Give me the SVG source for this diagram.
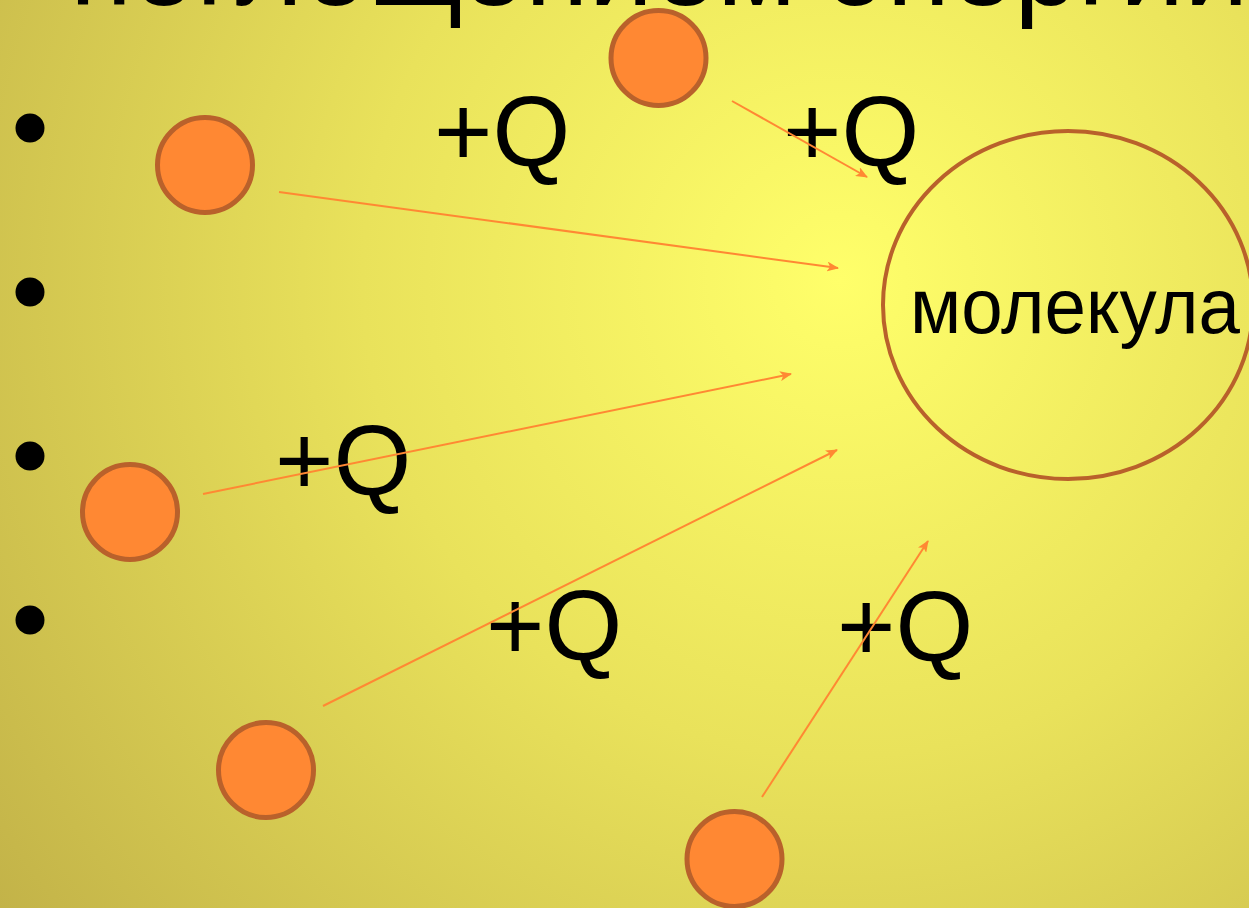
<svg xmlns="http://www.w3.org/2000/svg" width="1249" height="908" viewBox="0 0 1249 908">
<defs>
<radialGradient id="bg" gradientUnits="userSpaceOnUse" cx="840" cy="280" r="1060">
<stop offset="0" stop-color="#FFFF6A"/>
<stop offset="0.45" stop-color="#E9E25B"/>
<stop offset="1" stop-color="#C2B248"/>
</radialGradient>
<marker id="ah" viewBox="0 0 12 10" refX="11" refY="5" markerWidth="12" markerHeight="10" markerUnits="userSpaceOnUse" orient="auto">
<path d="M0,0 L12,5 L0,10 L3,5 Z" fill="#FF8833"/>
</marker>
<style>
.p{fill:#FF8833;stroke:#B9612B;stroke-width:5}
.q{font-family:"Liberation Sans",Arial,sans-serif;font-size:100px;fill:#000}
.b{fill:#000}
.c{stroke:#FF8833;stroke-width:2;fill:none;marker-end:url(#ah)}
</style>
</defs>
<rect width="1249" height="908" fill="url(#bg)"/>
<text x="70" y="5" font-family="Liberation Sans, Arial, sans-serif" font-size="115" fill="#000">поглощением энергии</text>
<g id="bullets">
<circle class="b" cx="30" cy="128" r="14.5"/>
<circle class="b" cx="30" cy="292" r="14.5"/>
<circle class="b" cx="30" cy="456" r="14.5"/>
<circle class="b" cx="30" cy="620" r="14.5"/>
</g>
<g id="molecule">
<ellipse cx="1068" cy="305" rx="185" ry="174" fill="none" stroke="#B9612B" stroke-width="4"/>
<text x="910" y="333" font-family="Liberation Sans, Arial, sans-serif" font-size="78" textLength="330" lengthAdjust="spacingAndGlyphs" fill="#000">молекула</text>
</g>
<g id="particle1"><circle class="p" cx="205" cy="165" r="47.5"/></g>
<g id="particle2"><circle class="p" cx="658.5" cy="58" r="47.5"/></g>
<g id="particle3"><circle class="p" cx="130" cy="512" r="47.5"/></g>
<g id="particle4"><circle class="p" cx="266" cy="770" r="47.5"/></g>
<g id="particle5"><circle class="p" cx="734.5" cy="859" r="47.5"/></g>
<g id="labels">
<text class="q" x="434" y="166">+Q</text>
<text class="q" x="783" y="166">+Q</text>
<text class="q" x="275" y="495">+Q</text>
<text class="q" x="486" y="660">+Q</text>
<text class="q" x="837" y="661">+Q</text>
</g>
<g id="connectors">
<line class="c" x1="279" y1="192" x2="838" y2="268"/>
<line class="c" x1="732" y1="101" x2="867" y2="177"/>
<line class="c" x1="203" y1="494" x2="791" y2="374"/>
<line class="c" x1="323" y1="706" x2="837" y2="450"/>
<line class="c" x1="762" y1="797" x2="928" y2="541"/>
</g>
</svg>
